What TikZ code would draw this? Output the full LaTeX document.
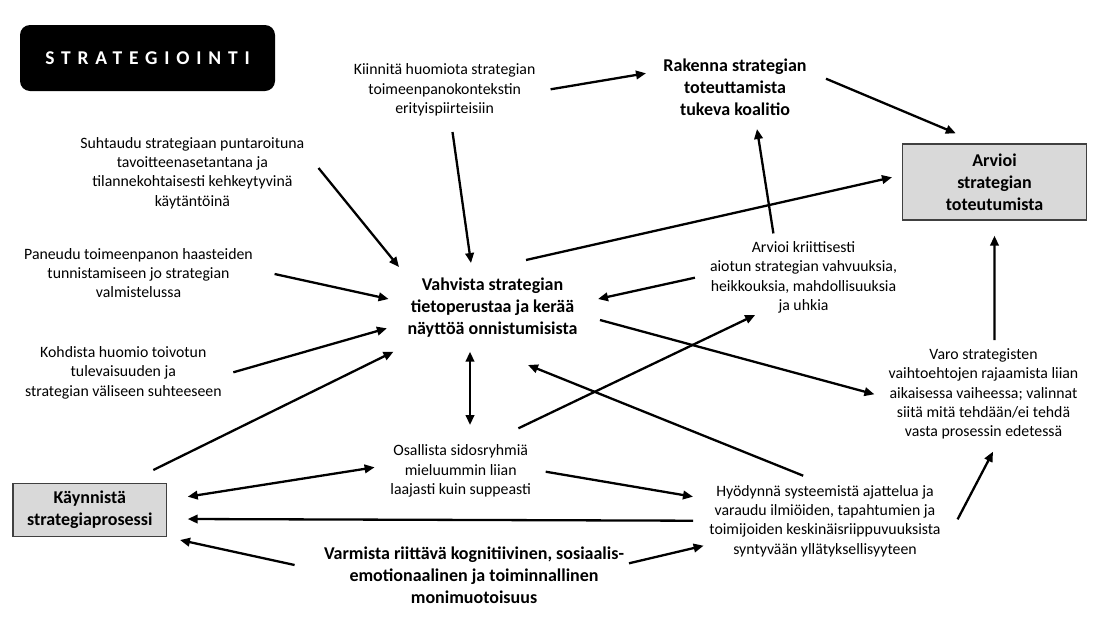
\documentclass[tikz,border=0pt]{standalone}
\usepackage{fontspec}
\setmainfont{Carlito}
\usetikzlibrary{arrows.meta,calc}
\begin{document}
\begin{tikzpicture}[x=1pt,y=-1pt,
  txt/.style={align=center,inner sep=0pt,font=\fontsize{15.8}{19.3}\selectfont},
  btxt/.style={align=center,inner sep=0pt,font=\fontsize{18}{22}\selectfont\bfseries},
  graybox/.style={draw=black!75,line width=1.2pt,fill=black!15,inner sep=0pt},
  arr/.style={line width=2.3pt,-{Triangle[length=10pt,width=8.5pt]}},
  darr/.style={line width=2.3pt,{Triangle[length=10pt,width=8.5pt]}-{Triangle[length=10pt,width=8.5pt]}}]
\useasboundingbox[fill=white] (0,0) rectangle (1100,619);
% title
\node[fill=black,rounded corners=10pt,minimum width=255pt,minimum height=66pt,inner sep=0pt,
  text=white,font=\fontsize{19.5}{23}\selectfont\bfseries\addfontfeature{LetterSpace=35}] (title) at (147.5,58) {STRATEGIOINTI};
% nodes
\node[txt] (kii) at (444.6,90) {Kiinnitä huomiota strategian\\toimeenpanokontekstin\\erityispiirteisiin};
\node[btxt] (rak) at (735,87.5) {Rakenna strategian\\toteuttamista\\tukeva koalitio};
\node[graybox,minimum width=184pt,minimum height=76pt] (arv) at (994.5,182) {};
\node[btxt] (arvt) at (994.5,182) {Arvioi\\strategian\\toteutumista};
\node[txt] (suh) at (192.4,173) {Suhtaudu strategiaan puntaroituna\\tavoitteenasetantana ja\\tilannekohtaisesti kehkeytyvinä\\käytäntöinä};
\node[txt] (pan) at (138.5,273) {Paneudu toimeenpanon haasteiden\\tunnistamiseen jo strategian\\valmistelussa};
\node[btxt] (vah) at (492.5,308) {Vahvista strategian\\tietoperustaa ja kerää\\näyttöä onnistumisista};
\node[txt] (akr) at (803.5,277.4) {Arvioi kriittisesti\\aiotun strategian vahvuuksia,\\heikkouksia, mahdollisuuksia\\ja uhkia};
\node[txt] (koh) at (123.3,372.7) {Kohdista huomio toivotun\\tulevaisuuden ja\\strategian väliseen suhteeseen};
\node[graybox,minimum width=153.6pt,minimum height=53.4pt] (kay) at (89.8,510) {};
\node[btxt] (kayt) at (89.8,510) {Käynnistä\\strategiaprosessi};
\node[txt] (osa) at (460.7,471) {Osallista sidosryhmiä\\mieluummin liian\\laajasti kuin suppeasti};
\node[txt] (hyo) at (825,521) {Hyödynnä systeemistä ajattelua ja\\varaudu ilmiöiden, tapahtumien ja\\toimijoiden keskinäisriippuvuuksista\\syntyvään yllätyksellisyyteen};
\node[txt] (varo) at (983.5,394) {Varo strategisten\\vaihtoehtojen rajaamista liian\\aikaisessa vaiheessa; valinnat\\siitä mitä tehdään/ei tehdä\\vasta prosessin edetessä};
\node[btxt] (varm) at (474,575.5) {Varmista riittävä kognitiivinen, sosiaalis-\\emotionaalinen ja toiminnallinen\\monimuotoisuus};
% connectors
\draw[arr] ($(kii)+(106,-0.7)$) -- ($(rak)+(-89,-14.2)$);
\draw[arr] ($(rak)+(91,-8.8)$) -- ($(arv)+(-38.7,-48.7)$);
\draw[arr] ($(suh)+(126.1,-5)$) -- ($(vah)+(-93.5,-41)$);
\draw[arr] ($(kii)+(7.9,42)$) -- ($(vah)+(-21.5,-45)$);
\draw[arr] ($(vah)+(33.5,-48)$) -- ($(arv)+(-102.5,-4.7)$);
\draw[arr] ($(akr)+(-30.1,-44)$) -- ($(rak)+(22,41.5)$);
\draw[arr] ($(akr)+(-108.6,0.3)$) -- ($(vah)+(105.5,-9)$);
\draw[arr] ($(pan)+(136.1,1)$) -- ($(vah)+(-103.9,-9)$);
\draw[arr] ($(koh)+(110,-0.4)$) -- ($(vah)+(-105.6,20.3)$);
\draw[arr] ($(kay)+(63.5,-40)$) -- ($(vah)+(-99,43.7)$);
\draw[darr] ($(vah)+(-22.5,43.7)$) -- ($(osa)+(9.3,-46)$);
\draw[arr] ($(osa)+(57.7,-42.7)$) -- ($(akr)+(-48.3,37.6)$);
\draw[arr] ($(vah)+(107.5,12)$) -- ($(varo)+(-109.1,0.3)$);
\draw[arr] ($(hyo)+(-21.8,-45.3)$) -- ($(vah)+(35.5,57)$);
\draw[darr] ($(kay)+(97.9,-13.3)$) -- ($(osa)+(-86.1,-3.7)$);
\draw[arr] ($(osa)+(85,0.7)$) -- ($(hyo)+(-132,-24.3)$);
\draw[arr] ($(hyo)+(-132,-0.3)$) -- ($(kay)+(97.9,9)$);
\draw[arr] ($(varm)+(-179.4,-10.5)$) -- ($(kay)+(90.2,30)$);
\draw[arr] ($(varm)+(155,-12.2)$) -- ($(hyo)+(-121.4,24.7)$);
\draw[arr] ($(hyo)+(132.6,-1.7)$) -- ($(varo)+(9.5,57.7)$);
\draw[arr] ($(varo)+(10.9,-54)$) -- ($(arv)+(0,53.7)$);
\end{tikzpicture}
\end{document}
